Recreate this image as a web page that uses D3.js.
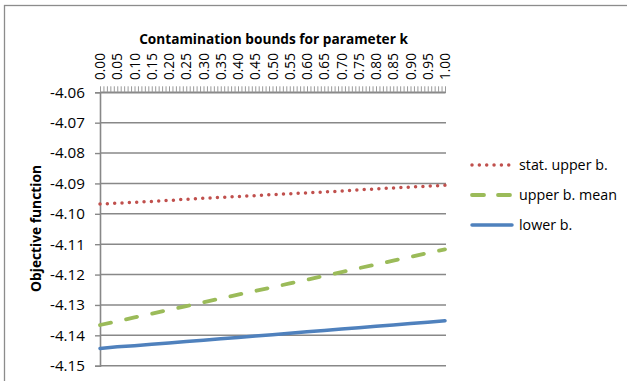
<!DOCTYPE html>
<html><head><meta charset="utf-8">
<script src="https://cdn.jsdelivr.net/npm/d3@7"></script>
<style>html,body{margin:0;padding:0;background:#fff;}svg{display:block;}</style>
</head><body>
<svg id="c" width="627" height="381"></svg>
<script>
// ---- data ----
const kValues = [0.00,0.05,0.10,0.15,0.20,0.25,0.30,0.35,0.40,0.45,0.50,0.55,0.60,0.65,0.70,0.75,0.80,0.85,0.90,0.95,1.00];
const kTickLabels = ["0.00","0.05","0.10","0.15","0.20","0.25","0.30","0.35","0.40","0.45","0.50","0.55","0.60","0.65","0.70","0.75","0.80","0.85","0.90","0.95","1.00"];
const statUpper = [-4.0968,-4.0965,-4.0962,-4.0959,-4.0956,-4.0952,-4.0949,-4.0946,-4.0943,-4.0940,-4.0937,-4.0934,-4.0931,-4.0928,-4.0925,-4.0921,-4.0918,-4.0915,-4.0912,-4.0909,-4.0906];
const upperMean = [-4.1366,-4.1354,-4.1341,-4.1329,-4.1316,-4.1304,-4.1291,-4.1279,-4.1266,-4.1254,-4.1242,-4.1229,-4.1217,-4.1204,-4.1192,-4.1179,-4.1167,-4.1154,-4.1142,-4.1129,-4.1117];
const lowerB = [-4.1443,-4.1438,-4.1434,-4.1429,-4.1425,-4.1420,-4.1416,-4.1411,-4.1407,-4.1402,-4.1398,-4.1393,-4.1388,-4.1384,-4.1379,-4.1375,-4.1370,-4.1366,-4.1361,-4.1357,-4.1352];
const yTicks = [-4.15,-4.14,-4.13,-4.12,-4.11,-4.10,-4.09,-4.08,-4.07,-4.06];
const yTickLabels = ["-4.15","-4.14","-4.13","-4.12","-4.11","-4.10","-4.09","-4.08","-4.07","-4.06"];
const minorTicks = d3.range(0, 101).map(i => i / 100);
const seriesNames = ["stat. upper b.","upper b. mean","lower b."];

const svg = d3.select("#c");
const FONT = "'Open Sans', sans-serif";
const grid = "#888888";

// font size that makes a string reach a target width
function fitSize(str, target, weight) {
  const t = svg.append("text").attr("font-family", FONT).attr("font-size", 20)
    .attr("font-weight", weight || "normal").text(str);
  const w = t.node().getComputedTextLength();
  t.remove();
  return 20 * target / w;
}
const fsY = fitSize("-4.06", 35);
const fsX = fitSize("0.00", 27);
const fsTitle = fitSize("Contamination bounds for parameter k", 269, "bold");
const fsYTitle = fitSize("Objective function", 127, "bold");
const fsLeg = fitSize("upper b. mean", 98);

// border
svg.append("rect").attr("x",4.5).attr("y",5.5).attr("width",800).attr("height",600)
  .attr("fill","none").attr("stroke","#8c8c8c").attr("stroke-width",1.3);

const plot = {left:100, right:446, top:92.3, bottom:365.7};
const x = d3.scaleLinear().domain([0,1]).range([plot.left, plot.right - 1]);
const y = d3.scaleLinear().domain([-4.15,-4.06]).range([plot.bottom, plot.top]);

// gridlines
svg.append("g").selectAll("line").data(yTicks).join("line")
  .attr("x1", plot.left).attr("x2", plot.right)
  .attr("y1", d => y(d)).attr("y2", d => y(d))
  .attr("stroke", grid).attr("stroke-width", 1.4);

// y axis
const yAxis = d3.axisLeft(y).tickValues(yTicks).tickFormat((d,i) => yTickLabels[i]).tickSize(5).tickPadding(10);
const gy = svg.append("g").attr("transform", `translate(${plot.left},0)`).call(yAxis);
gy.select(".domain").attr("stroke", grid).attr("stroke-width", 1.6);
gy.selectAll(".tick line").attr("stroke", grid).attr("stroke-width", 1.4);
gy.selectAll(".tick text").attr("font-family", FONT).attr("font-size", fsY).attr("fill", "#000");

// top x axis: minor ticks
const xAxisMinor = d3.axisTop(x).tickValues(minorTicks).tickFormat("").tickSizeInner(6).tickSizeOuter(0);
const gx = svg.append("g").attr("transform", `translate(0,${plot.top})`).call(xAxisMinor);
gx.select(".domain").attr("stroke", grid).attr("stroke-width", 1.6);
gx.selectAll(".tick line").attr("stroke", "#9a9a9a").attr("stroke-width", 1);

// x labels
svg.append("g").selectAll("text").data(kValues).join("text")
  .attr("transform", (d) => `translate(${x(d)+5},80) rotate(-90)`)
  .attr("text-anchor","start")
  .attr("font-family", FONT).attr("font-size", fsX).attr("fill","#000")
  .text((d,i) => kTickLabels[i]);

// title
svg.append("text").attr("x", 273.5).attr("y", 43.5).attr("text-anchor","middle")
  .attr("font-family", FONT).attr("font-weight","bold").attr("font-size", fsTitle).attr("fill","#000")
  .text("Contamination bounds for parameter k");

// y title
svg.append("text").attr("transform","translate(41,228.5) rotate(-90)").attr("text-anchor","middle")
  .attr("font-family", FONT).attr("font-weight","bold").attr("font-size", fsYTitle).attr("fill","#000")
  .text("Objective function");

// lines
const styles = [
  {color:"#C0504D", width:3.5, dash:"0,7.35"},
  {color:"#9BBB59", width:3.8, dash:"11.2,15.5"},
  {color:"#4F81BD", width:3.5, dash:null}
];
const allSeries = [statUpper, upperMean, lowerB];
const line = d3.line().x((d,i) => x(kValues[i])).y(d => y(d));
allSeries.forEach((s, i) => {
  svg.append("path").datum(s).attr("d", line)
    .attr("fill","none").attr("stroke", styles[i].color).attr("stroke-width", styles[i].width)
    .attr("stroke-linecap","round")
    .attr("stroke-dasharray", styles[i].dash);
});

// legend
const lg = svg.append("g");
seriesNames.forEach((n, i) => {
  const yy = 165 + i * 30;
  lg.append("line").attr("x1", 472).attr("x2", 512).attr("y1", yy).attr("y2", yy)
    .attr("stroke", styles[i].color).attr("stroke-width", styles[i].width)
    .attr("stroke-linecap", "round").attr("stroke-dasharray", i===1 ? "12,14" : styles[i].dash);
  lg.append("text").attr("x", 519).attr("y", yy + 4.5)
    .attr("font-family", FONT).attr("font-size", fsLeg).attr("fill","#000").text(n);
});
</script>
</body></html>
